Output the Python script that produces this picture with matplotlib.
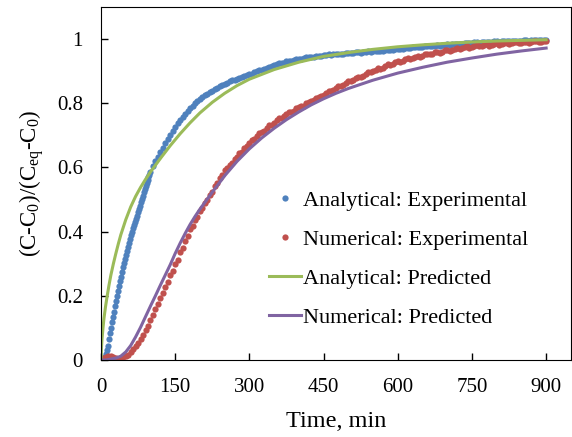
import numpy as np
import matplotlib
matplotlib.use("Agg")
import matplotlib.pyplot as plt

plt.rcParams['font.family'] = ['Liberation Serif', 'DejaVu Serif']
plt.rcParams['mathtext.fontset'] = 'custom'
plt.rcParams['mathtext.rm'] = 'Liberation Serif'
plt.rcParams['mathtext.it'] = 'Liberation Serif:italic'

# analytical experimental: every 2 min up to 98 min, then every 5 min
ana_exp_early = [
    0, 0, 0, 0.002, 0.008, 0.018, 0.030, 0.045, 0.065, 0.083,
    0.100, 0.117, 0.134, 0.151, 0.168, 0.185, 0.200, 0.215, 0.230, 0.245,
    0.260, 0.275, 0.290, 0.302, 0.315, 0.327, 0.340, 0.352, 0.364, 0.376,
    0.388, 0.400, 0.410, 0.420, 0.430, 0.440, 0.450, 0.460, 0.470, 0.481,
    0.492, 0.502, 0.512, 0.522, 0.532, 0.542, 0.552, 0.561, 0.570, 0.578,
]
ana_exp_late = [
    0.586, 0.603, 0.619, 0.633, 0.648, 0.662, 0.676, 0.689, 0.702, 0.714,
    0.726, 0.737, 0.748, 0.758, 0.768, 0.777, 0.785, 0.793, 0.800, 0.807,
    0.813, 0.818, 0.825, 0.829, 0.835, 0.839, 0.845, 0.847, 0.853, 0.857,
    0.861, 0.863, 0.868, 0.871, 0.873, 0.877, 0.880, 0.882, 0.886, 0.888,
    0.891, 0.892, 0.896, 0.900, 0.903, 0.904, 0.908, 0.911, 0.914, 0.915,
    0.918, 0.922, 0.924, 0.925, 0.927, 0.931, 0.932, 0.933, 0.935, 0.938,
    0.939, 0.939, 0.941, 0.943, 0.944, 0.944, 0.945, 0.947, 0.948, 0.948,
    0.949, 0.951, 0.952, 0.951, 0.952, 0.954, 0.955, 0.954, 0.955, 0.957,
    0.957, 0.956, 0.957, 0.959, 0.959, 0.958, 0.959, 0.961, 0.962, 0.961,
    0.962, 0.964, 0.964, 0.963, 0.964, 0.966, 0.967, 0.966, 0.967, 0.969,
    0.970, 0.969, 0.970, 0.972, 0.973, 0.972, 0.974, 0.975, 0.976, 0.975,
    0.976, 0.978, 0.979, 0.978, 0.979, 0.980, 0.981, 0.980, 0.982, 0.983,
    0.984, 0.983, 0.984, 0.985, 0.986, 0.985, 0.986, 0.988, 0.989, 0.988,
    0.989, 0.990, 0.991, 0.989, 0.990, 0.991, 0.992, 0.991, 0.992, 0.993,
    0.993, 0.992, 0.993, 0.994, 0.994, 0.993, 0.994, 0.995, 0.995, 0.994,
    0.995, 0.996, 0.996, 0.995, 0.996, 0.997, 0.997, 0.996, 0.996, 0.997,
    0.997,
]
t_ana_exp = np.concatenate([np.arange(len(ana_exp_early)) * 2,
                            100 + np.arange(len(ana_exp_late)) * 5])
ana_exp = ana_exp_early + ana_exp_late

# numerical experimental: every 5 min
num_exp = [
    0.000, 0.006, 0.010, 0.012, 0.011, 0.008, 0.005, 0.004, 0.005, 0.008,
    0.012, 0.017, 0.024, 0.033, 0.043, 0.052, 0.066, 0.077, 0.094, 0.107,
    0.126, 0.139, 0.159, 0.173, 0.193, 0.208, 0.229, 0.243, 0.264, 0.277,
    0.298, 0.313, 0.335, 0.348, 0.371, 0.387, 0.407, 0.418, 0.437, 0.446,
    0.463, 0.473, 0.490, 0.498, 0.515, 0.524, 0.542, 0.551, 0.568, 0.576,
    0.591, 0.597, 0.609, 0.614, 0.627, 0.632, 0.645, 0.649, 0.662, 0.666,
    0.677, 0.684, 0.690, 0.699, 0.706, 0.709, 0.715, 0.724, 0.731, 0.733,
    0.739, 0.748, 0.753, 0.755, 0.759, 0.768, 0.773, 0.774, 0.777, 0.785,
    0.789, 0.790, 0.793, 0.801, 0.805, 0.806, 0.809, 0.817, 0.821, 0.822,
    0.825, 0.833, 0.837, 0.838, 0.841, 0.849, 0.853, 0.854, 0.857, 0.864,
    0.868, 0.868, 0.871, 0.878, 0.882, 0.882, 0.885, 0.892, 0.896, 0.896,
    0.899, 0.905, 0.909, 0.908, 0.911, 0.917, 0.921, 0.919, 0.922, 0.928,
    0.931, 0.929, 0.931, 0.937, 0.940, 0.937, 0.940, 0.945, 0.948, 0.945,
    0.948, 0.953, 0.955, 0.952, 0.955, 0.959, 0.961, 0.958, 0.961, 0.965,
    0.967, 0.963, 0.966, 0.970, 0.972, 0.968, 0.971, 0.975, 0.977, 0.973,
    0.975, 0.979, 0.981, 0.977, 0.979, 0.982, 0.984, 0.980, 0.982, 0.985,
    0.987, 0.983, 0.985, 0.988, 0.989, 0.986, 0.987, 0.990, 0.991, 0.988,
    0.989, 0.991, 0.992, 0.989, 0.990, 0.993, 0.994, 0.991, 0.992, 0.994,
    0.994,
]
t_num_exp = np.arange(len(num_exp)) * 5

t_ana_pred = [0, 1, 2, 4, 6, 9, 12, 16, 20, 25, 30, 35, 40, 50, 60, 70, 80, 90, 100,
              120, 140, 160, 180, 200, 225, 250, 275, 300, 350, 400, 450, 500, 550,
              600, 650, 700, 750, 800, 850, 900]
ana_pred = [0, 0.040, 0.065, 0.100, 0.130, 0.165, 0.195, 0.232, 0.265, 0.300, 0.332,
            0.362, 0.390, 0.437, 0.477, 0.510, 0.538, 0.563, 0.586, 0.628, 0.668,
            0.705, 0.739, 0.770, 0.803, 0.831, 0.855, 0.875, 0.905, 0.928, 0.946,
            0.958, 0.968, 0.976, 0.982, 0.987, 0.991, 0.994, 0.996, 0.998]

t_num_pred = [0, 10, 20, 30, 40, 50, 60, 70, 80, 90, 100, 110, 120, 130, 140, 150, 160,
              170, 180, 190, 200, 225, 250, 275, 300, 325, 350, 375, 400, 425, 450,
              475, 500, 550, 600, 650, 700, 750, 800, 850, 900]
num_pred = [0, 0, 0.003, 0.006, 0.012, 0.025, 0.045, 0.072, 0.102, 0.135, 0.168, 0.200,
            0.233, 0.265, 0.297, 0.332, 0.364, 0.394, 0.422, 0.447, 0.470, 0.523, 0.574,
            0.619, 0.658, 0.692, 0.722, 0.749, 0.773, 0.795, 0.814, 0.831, 0.846, 0.872,
            0.894, 0.912, 0.928, 0.941, 0.953, 0.963, 0.972]

fig = plt.figure(figsize=(5.72, 4.37), dpi=100)
ax = fig.add_axes([0.1766, 0.1762, 0.8214, 0.8078])

ax.plot(t_ana_exp, ana_exp, 'o', color='#4F81BD', ms=4.5, mew=0, label='Analytical: Experimental')
ax.plot(t_num_exp, num_exp, 'o', color='#C0504D', ms=4.5, mew=0, label='Numerical: Experimental')
ax.plot(t_ana_pred, ana_pred, '-', color='#9BBB59', lw=2.2, label='Analytical: Predicted')
ax.plot(t_num_pred, num_pred, '-', color='#8064A2', lw=2.2, label='Numerical: Predicted')

ax.set_xlim(0, 950)
ax.set_ylim(0, 1.1)
ax.set_xticks([0, 150, 300, 450, 600, 750, 900])
ax.set_yticks([0, 0.2, 0.4, 0.6, 0.8, 1.0])
ax.set_yticklabels(['0', '0.2', '0.4', '0.6', '0.8', '1'])
ax.tick_params(direction='in', length=5, width=1, labelsize=15, pad=13)

ax.set_xlabel('Time, min', fontsize=17.5, labelpad=10)
ax.set_ylabel('(C-C$_0$)/(C$_{\\mathrm{eq}}$-C$_0$)', fontsize=16.5, labelpad=8)

leg = ax.legend(loc='upper left', bbox_to_anchor=(0.338, 0.506), frameon=False, fontsize=16,
                handlelength=1.45, handletextpad=0.1, labelspacing=0.83, borderaxespad=0)

fig.savefig('out.png', dpi=100)
